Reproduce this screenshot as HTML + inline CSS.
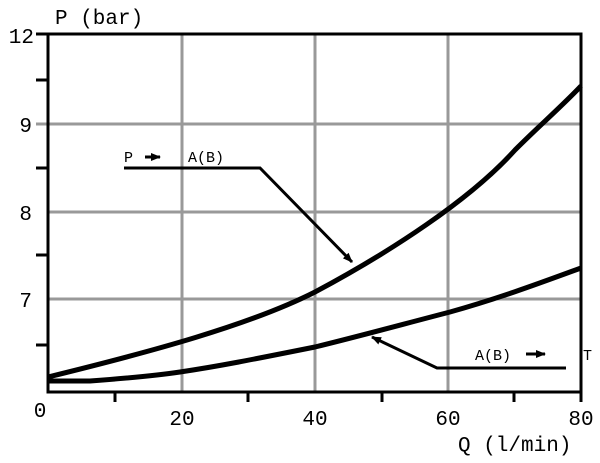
<!DOCTYPE html><html><head><style>body{margin:0;background:#fff}</style></head><body>
<svg width="600" height="458" xmlns="http://www.w3.org/2000/svg" font-family="Liberation Mono, monospace">
<defs><marker id="a" markerWidth="10" markerHeight="8" refX="9" refY="4" orient="auto" markerUnits="userSpaceOnUse"><path d="M0,0L10,4L0,8z" fill="#000"/></marker></defs>
<g stroke="#999" stroke-width="3">
<line x1="182" y1="35" x2="182" y2="392"/><line x1="315" y1="35" x2="315" y2="392"/><line x1="448" y1="35" x2="448" y2="392"/>
<line x1="36" y1="124" x2="581" y2="124"/><line x1="48" y1="212" x2="581" y2="212"/><line x1="48" y1="299" x2="581" y2="299"/>
</g>
<g stroke="#000" stroke-width="3">
<rect x="48" y="34" width="533" height="358" fill="none"/>
<line x1="36" y1="34" x2="48" y2="34"/><line x1="36" y1="80" x2="48" y2="80"/><line x1="36" y1="168" x2="48" y2="168"/><line x1="36" y1="255" x2="48" y2="255"/><line x1="36" y1="345" x2="48" y2="345"/>
<line x1="115" y1="392" x2="115" y2="402"/><line x1="248" y1="392" x2="248" y2="402"/><line x1="382" y1="392" x2="382" y2="402"/><line x1="514" y1="392" x2="514" y2="402"/><line x1="581" y1="392" x2="581" y2="402"/>
</g>
<g fill="none" stroke="#000" stroke-width="5">
<path d="M48,377 C150,352 250,325 315,292 C390,252 470,200 515,150 C540,125 560,108 581,86"/>
<path d="M48,381 L90,381 C130,378 160,375 180,372 C220,366 250,360 315,347 C360,336 400,325 450,312 C500,298 540,283 581,268"/>
</g>
<g fill="none" stroke="#000" stroke-width="3">
<path d="M124,168 L260,168 L352,262" marker-end="url(#a)"/>
<path d="M566,368 L437,368 L372,337" marker-end="url(#a)"/>
<path d="M145,157 L160,157" marker-end="url(#a)"/>
<path d="M526,354 L545,354" marker-end="url(#a)"/>
</g>
<g font-size="21" fill="#000">
<text x="34" y="43" text-anchor="end">12</text>
<text x="32" y="132" text-anchor="end">9</text>
<text x="32" y="220" text-anchor="end">8</text>
<text x="32" y="307" text-anchor="end">7</text>
<text x="40" y="417" text-anchor="middle">0</text>
<text x="182" y="425" text-anchor="middle">20</text>
<text x="315" y="425" text-anchor="middle">40</text>
<text x="448" y="425" text-anchor="middle">60</text>
<text x="581" y="425" text-anchor="middle">80</text>
<text x="55" y="24">P (bar)</text>
<text x="458" y="451">Q (l/min)</text>
</g>
<g font-size="15" fill="#000">
<text x="124" y="162">P</text><text x="188" y="162">A(B)</text>
<text x="475" y="360">A(B)</text><text x="583" y="360">T</text>
</g>
</svg></body></html>
